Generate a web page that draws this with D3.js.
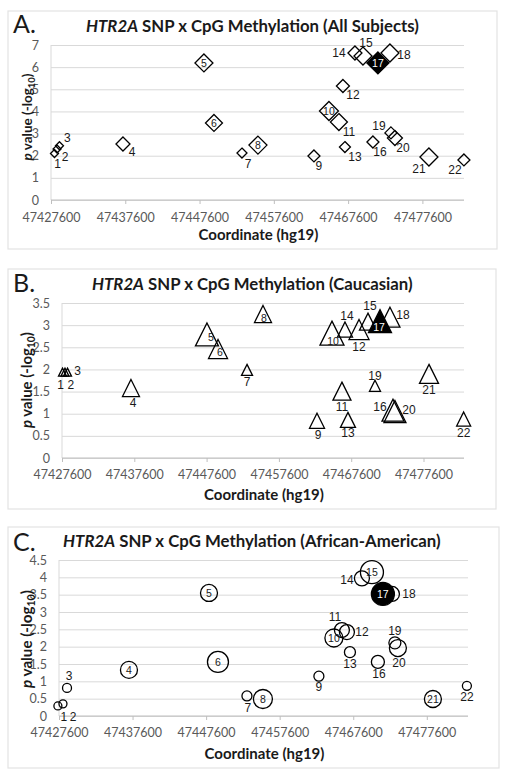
<!DOCTYPE html>
<html><head><meta charset="utf-8">
<script src="https://cdn.jsdelivr.net/npm/d3@7"></script>
<style>body{margin:0;background:#fff}svg{display:block}</style>
</head><body>
<script>
// ---------------- DATA ----------------
const snpLabels = ["1","2","3","4","5","6","7","8","9","10","11","12","13","14","15","16","17","18","19","20","21","22"];
const highlightSnp = "17";
const xTickValues = [47427600, 47437600, 47447600, 47457600, 47467600, 47477600];
const xDomain = [47427600, 47483200];

// Panel A: All Subjects (diamonds)
const coordA = [47428070,47428410,47428740,47437290,47448190,47449540,47453310,47455460,47463000,47465020,47466360,47466900,47467170,47468520,47469600,47470940,47471610,47473230,47473360,47473900,47478480,47483190];
const pvalA  = [2.10,2.30,2.45,2.53,6.19,3.48,2.12,2.48,1.99,4.02,3.52,5.15,2.39,6.64,6.50,2.62,6.19,6.64,3.03,2.80,1.94,1.81];
const markerA = [8,8,8,14,18,17,10,18,12,19,17,13,11,14,18,12,22,18,12,15,18,12];
const yTicksA = [0,1,2,3,4,5,6,7];

// Panel B: Caucasian (triangles)
const coordB = [47427670,47428010,47428360,47437140,47447650,47449180,47453190,47455400,47462870,47464940,47466320,47468680,47467150,47466740,47469920,47473380,47471580,47472960,47470890,47473650,47478360,47483150];
const pvalB  = [1.94,1.94,1.94,1.58,2.79,2.46,1.99,3.25,0.84,2.82,1.51,2.90,0.86,2.90,3.08,1.08,3.09,3.18,1.63,1.05,1.90,0.88];
const markerB = [8,8,8,17,23,19,11,17,15,24,18,20,15,15,17,22,23,20,11,22,19,14];
const yTicksB = [0,0.5,1,1.5,2,2.5,3,3.5];

// Panel C: African-American (circles)
const coordC = [47427450,47428140,47428690,47437110,47447990,47449210,47453150,47455320,47462930,47464970,47466060,47466740,47467150,47468780,47470140,47470950,47471630,47472860,47473260,47473670,47478430,47483050];
const pvalC  = [0.29,0.35,0.81,1.33,3.55,1.56,0.58,0.49,1.15,2.25,2.48,2.42,1.84,3.97,4.15,1.56,3.52,3.52,2.11,1.96,0.49,0.87];
const markerC = [8,8,9,17,17,21,10,19,10,18,15,15,11,15,23,13,23,15,12,17,17,9];
const yTicksC = [0,0.5,1,1.5,2,2.5,3,3.5,4,4.5];

// ---------------- LAYOUT ----------------
// label offsets (dx, dy) from marker centre; "in" = label drawn inside marker
const labelOffsetA = {1:[3,10],2:[8,8],3:[8,-8],4:[9,8],5:"in",6:"in",7:[6,11],8:"in",9:[5,10],10:"in",11:[10,10],12:[10,9],13:[10,10],14:[-16,0],15:[3,-13],16:[7,10],17:"in",18:[14,2],19:[-12,-7],20:[8,10],21:[-10,12],22:[-9,10]};
const labelOffsetB = {1:[-2,13],2:[6,13],3:[10,-1],4:[2,15],5:[4,3,"in"],6:[2,3,"in"],7:[0,12],8:[1,4,"in"],9:[1,14],10:[1,8,"in"],11:[0,16],12:[0,17],13:[0,13],14:[2,-14],15:[2,-16],16:[-13,-3],17:[-1,6,"in"],18:[13,-2],19:[0,-10],20:[14,-2],21:[0,16],22:[0,14]};
const labelOffsetC = {1:[6,11],2:[10,13],3:[2,-12],4:"in",5:"in",6:"in",7:[1,12],8:"in",9:[0,11],10:"in",11:[-7,-13],12:[15,0],13:[0,12],14:[-15,2],15:"in",16:[1,12],17:"in",18:[17,0],19:[0,-12],20:[1,15],21:"in",22:[0,11]};

const panels = [
  {letter:"A.", sub:" SNP x CpG Methylation (All Subjects)", shape:"diamond", coord:coordA, pval:pvalA, marker:markerA, yTicks:yTicksA,
   box:[8,11,489,238], plot:{l:51,r:464,t:45,b:200}, titleX:86, titleW:333, titleY:32, letterY:33, yTitleX:32, yTitleC:117, yTitleL:87, xTitleY:240, tickY:222, off:labelOffsetA},
  {letter:"B.", sub:" SNP x CpG Methylation (Caucasian)", shape:"triangle", coord:coordB, pval:pvalB, marker:markerB, yTicks:yTicksB,
   box:[8,269,488,240], plot:{l:62,r:464,t:303,b:458}, titleX:92, titleW:321, titleY:290, letterY:292, yTitleX:32, yTitleC:380, yTitleL:96, xTitleY:500, tickY:479, off:labelOffsetB},
  {letter:"C.", sub:" SNP x CpG Methylation (African-American)", shape:"circle", coord:coordC, pval:pvalC, marker:markerC, yTicks:yTicksC,
   box:[8,527,491,241], plot:{l:59,r:468,t:560,b:716}, titleX:63, titleW:378, titleY:547, letterY:551, yTitleX:32, yTitleC:639, yTitleL:98, xTitleY:759, tickY:737, off:labelOffsetC}
];

const W = 512, H = 781;
const svg = d3.select("body").append("svg").attr("width", W).attr("height", H);
const TXT = "#595959", GRID = "#d9d9d9";
const sizeScale = d3.scaleLinear().domain([0, 10]).range([0, 10]);

function fit(sel, target) {
  const n = sel.node();
  const fs = parseFloat(sel.attr("font-size"));
  const len = n.getComputedTextLength();
  if (len > 0) sel.attr("font-size", fs * target / len);
}

function shapePath(shape, s) {
  const h = s / 2;
  if (shape === "diamond") return `M0,${-h}L${h},0L0,${h}L${-h},0Z`;
  if (shape === "triangle") return `M0,${-h}L${h},${h}L${-h},${h}Z`;
  return d3.arc()({innerRadius:0, outerRadius:h, startAngle:0, endAngle:2*Math.PI});
}

panels.forEach(p => {
  const g = svg.append("g");
  g.append("rect").attr("x", p.box[0]).attr("y", p.box[1]).attr("width", p.box[2]).attr("height", p.box[3])
    .attr("fill", "#fff").attr("stroke", "#e3e3e3").attr("stroke-width", 1.2);

  const yMax = d3.max(p.yTicks);
  const x = d3.scaleLinear().domain(xDomain).range([p.plot.l, p.plot.r]);
  const y = d3.scaleLinear().domain([0, yMax]).range([p.plot.b, p.plot.t]);

  // gridlines
  g.append("g").attr("transform", `translate(${p.plot.l},0)`)
    .call(d3.axisLeft(y).tickValues(p.yTicks).tickSize(-(p.plot.r - p.plot.l)).tickFormat(""))
    .call(a => a.select(".domain").remove())
    .call(a => a.selectAll(".tick line").attr("stroke", GRID).attr("stroke-width", 1));
  // y tick labels
  g.append("g").attr("transform", `translate(${p.plot.l - 12},0)`)
    .call(d3.axisLeft(y).tickValues(p.yTicks).tickSize(0).tickPadding(0).tickFormat(d => d3.format("")(d)))
    .call(a => a.select(".domain").remove())
    .call(a => a.selectAll("text").attr("fill", TXT).attr("font-family", "Lato, 'Open Sans', sans-serif").attr("font-size", 12.5));
  // y axis line
  g.append("line").attr("x1", p.plot.l).attr("x2", p.plot.l).attr("y1", p.plot.t).attr("y2", p.plot.b)
    .attr("stroke", GRID).attr("stroke-width", 1);
  // x axis
  const xa = g.append("g").attr("transform", `translate(0,${p.plot.b})`)
    .call(d3.axisBottom(x).tickValues(xTickValues).tickSize(4).tickPadding(0).tickFormat(d3.format("d")));
  xa.select(".domain").attr("stroke", "#bfbfbf").attr("d", `M${p.plot.l},0H${p.plot.r}`);
  xa.selectAll(".tick line").attr("stroke", "#bfbfbf");
  xa.selectAll("text").attr("fill", TXT).attr("font-family", "Lato, 'Open Sans', sans-serif").attr("font-size", 12.5)
    .attr("dy", null).attr("y", p.tickY - p.plot.b);

  // titles
  g.append("text").attr("x", 13).attr("y", p.letterY).attr("font-family", "Lato, sans-serif").attr("font-size", 25)
    .attr("fill", "#1a1a1a").text(p.letter);
  const t = g.append("text").attr("x", p.titleX).attr("y", p.titleY).attr("font-family", "Lato, sans-serif")
    .attr("font-weight", "bold").attr("font-size", 15).attr("fill", "#1a1a1a");
  t.append("tspan").attr("font-style", "italic").text("HTR2A");
  t.append("tspan").text(p.sub);
  fit(t, p.titleW);

  const xt = g.append("text").attr("x", (p.plot.l + p.plot.r) / 2 + 1).attr("y", p.xTitleY).attr("text-anchor", "middle")
    .attr("font-family", "Lato, sans-serif").attr("font-weight", "bold").attr("font-size", 15).attr("fill", "#1a1a1a")
    .text("Coordinate (hg19)");
  fit(xt, 120);

  const yt = g.append("text").attr("transform", `translate(${p.yTitleX},${p.yTitleC}) rotate(-90)`).attr("text-anchor", "middle")
    .attr("font-family", "Lato, sans-serif").attr("font-weight", "bold").attr("font-size", 15).attr("fill", "#1a1a1a");
  yt.append("tspan").attr("font-style", "italic").text("p");
  yt.append("tspan").text(" value (-log");
  yt.append("tspan").attr("font-size", "0.7em").attr("dy", 3).text("10");
  yt.append("tspan").attr("dy", -3).text(")");
  fit(yt, p.yTitleL);

  // markers
  const data = snpLabels.map((lab, i) => ({lab, c: p.coord[i], v: p.pval[i], s: p.marker[i]}));
  const order = data.filter(d => d.lab !== highlightSnp).concat(data.filter(d => d.lab === highlightSnp));
  const mg = g.append("g");
  order.forEach(d => {
    const hl = d.lab === highlightSnp;
    mg.append("path").attr("d", shapePath(p.shape, sizeScale(d.s)))
      .attr("transform", `translate(${x(d.c)},${y(d.v)})`)
      .attr("fill", hl ? "#000" : "none").attr("stroke", "#000").attr("stroke-width", 1.3);
  });
  // labels
  data.forEach(d => {
    const o = p.off[+d.lab];
    const inside = o === "in" || (Array.isArray(o) && o[2] === "in");
    const dx = Array.isArray(o) ? o[0] : 0, dy = Array.isArray(o) ? o[1] : 0;
    mg.append("text").attr("x", x(d.c) + dx).attr("y", y(d.v) + dy)
      .attr("text-anchor", "middle").attr("dominant-baseline", "central")
      .attr("font-family", "'Liberation Sans', Arial, sans-serif").attr("font-size", inside ? 10.5 : 12)
      .attr("fill", d.lab === highlightSnp ? "#fff" : "#1a1a1a").text(d.lab);
  });
});
</script>
</body></html>
